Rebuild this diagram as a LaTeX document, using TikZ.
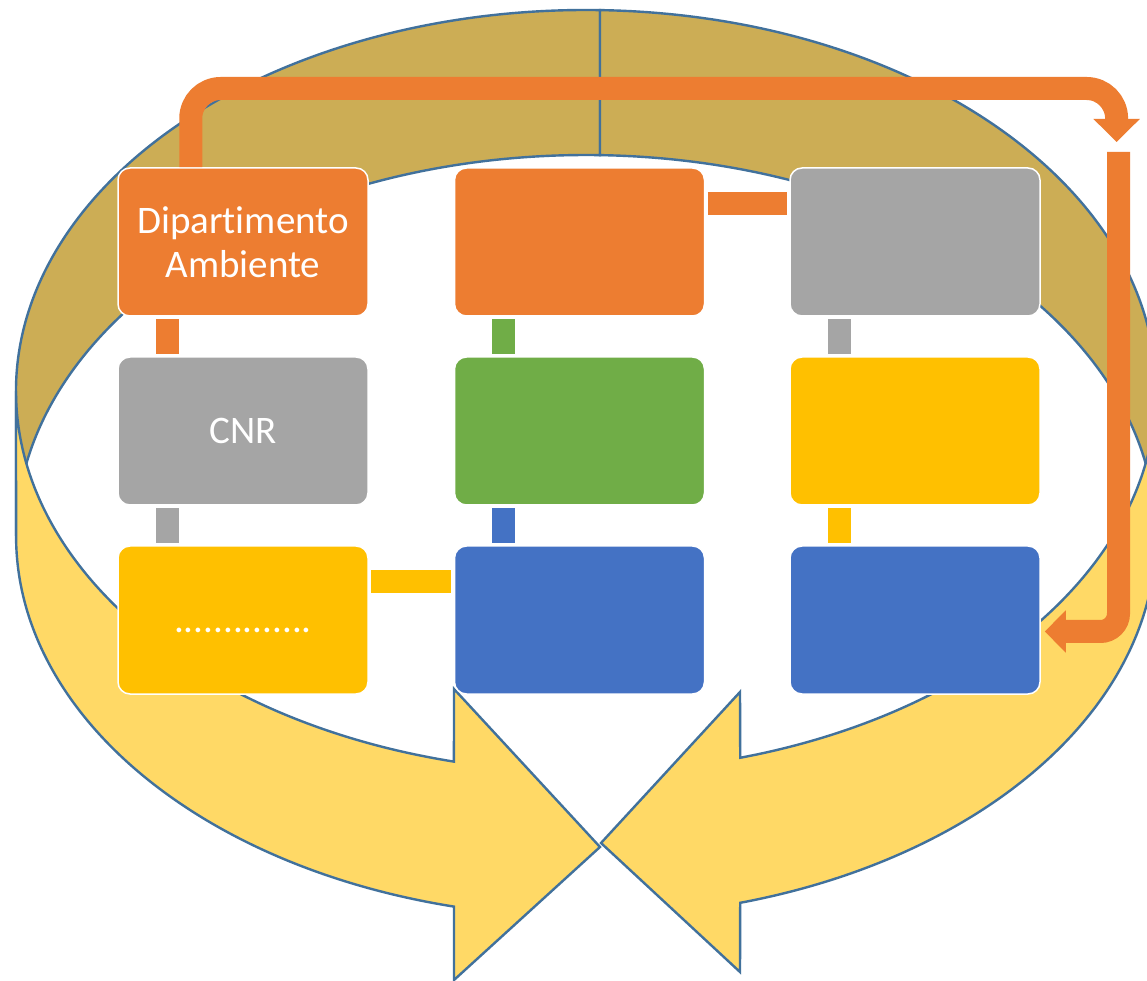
\documentclass[tikz,border=0pt]{standalone}
\usepackage{fontspec}
\setmainfont{Carlito}[Ligatures=NoCommon]
\usetikzlibrary{arrows.meta}
\definecolor{gold}{RGB}{204,173,85}
\definecolor{ribbon}{RGB}{255,217,102}
\definecolor{edgeblue}{RGB}{65,113,156}
\definecolor{oOrange}{RGB}{237,125,49}
\definecolor{oGray}{RGB}{165,165,165}
\definecolor{oGreen}{RGB}{112,173,71}
\definecolor{oYellow}{RGB}{255,192,0}
\definecolor{oBlue}{RGB}{68,114,196}
\begin{document}
\begin{tikzpicture}[x=1pt,y=1pt,
  box/.style={rectangle, rounded corners=12pt, draw=white, line width=1.5pt,
    minimum width=250pt, minimum height=148pt, text=white, align=center,
    font=\fontsize{39}{44}\selectfont},
  link/.style={line width=23pt, shorten <=2.5pt, shorten >=2.5pt},
  band/.style={draw=edgeblue, line width=2.4pt, line join=miter},
  flow/.style={draw=oOrange, line width=23pt},
  ell/.style={x radius=570pt, y radius=381pt}]
\useasboundingbox (0,0) rectangle (1147,980);
\fill[white] (0,0) rectangle (1147,980);
\clip (0,0) rectangle (1147,980);

% back (gold) halves of the ring
\draw[band, fill=gold] (600,969.88) arc[ell, start angle=88.59, end angle=180]
  -- (16,444) arc[ell, start angle=180, end angle=88.59] -- cycle;
\draw[band, fill=gold] (600,969.88) arc[ell, start angle=88.59, end angle=0]
  -- (1156,444) arc[ell, start angle=0, end angle=88.59] -- cycle;

% front (yellow) halves with arrow heads
\draw[band, fill=ribbon] (16,589) arc[ell, start angle=180, end angle=256.6]
  -- (454,291) -- (600,133) -- (454,0) -- (454,73.4)
  arc[ell, start angle=256.6, end angle=180] -- cycle;
\draw[band, fill=ribbon] (1156,589) arc[ell, start angle=0, end angle=-74.3]
  -- (740,288) -- (601,137) -- (740,8) -- (740.2,77.2)
  arc[ell, start angle=-74.3, end angle=0] -- cycle;

% boxes
\node[box, fill=oOrange] (a1) at (243,738) {Dipartimento\\Ambiente};
\node[box, fill=oGray]   (a2) at (243,549) {CNR};
\node[box, fill=oYellow] (a3) at (243,360) {\vphantom{C}..............};
\node[box, fill=oOrange] (b1) at (579.5,738) {};
\node[box, fill=oGreen]  (b2) at (579.5,549) {};
\node[box, fill=oBlue]   (b3) at (579.5,360) {};
\node[box, fill=oGray]   (c1) at (915,738) {};
\node[box, fill=oYellow] (c2) at (915,549) {};
\node[box, fill=oBlue]   (c3) at (915,360) {};

% connectors
\draw[link, oOrange] ([xshift=50pt]a1.south west) -- ([xshift=50pt]a2.north west);
\draw[link, oGray]   ([xshift=50pt]a2.south west) -- ([xshift=50pt]a3.north west);
\draw[link, oGreen]  ([xshift=50pt]b1.south west) -- ([xshift=50pt]b2.north west);
\draw[link, oBlue]   ([xshift=50pt]b2.south west) -- ([xshift=50pt]b3.north west);
\draw[link, oGray]   ([xshift=50pt]c1.south west) -- ([xshift=50pt]c2.north west);
\draw[link, oYellow] ([xshift=50pt]c2.south west) -- ([xshift=50pt]c3.north west);
\draw[link, oOrange] ([yshift=-36pt]b1.north east) -- ([yshift=-36pt]c1.north west);
\draw[link, oYellow] ([yshift=-36pt]a3.north east) -- ([yshift=-36pt]b3.north west);

% orange flow arrows
\coordinate (q1) at (1116.6,838);
\coordinate (r1) at (1118.5,828);
\draw[flow, rounded corners=30pt, -{Triangle[width=45pt,length=23pt]}]
  ([xshift=73.5pt]a1.north west) |- (q1 |- 0,891.5) -- (q1);
\draw[flow, rounded corners=18pt, -{Triangle[width=41pt,length=21pt]}]
  (r1) |- ([xshift=4pt,yshift=-11.5pt]c3.east);
\end{tikzpicture}
\end{document}
